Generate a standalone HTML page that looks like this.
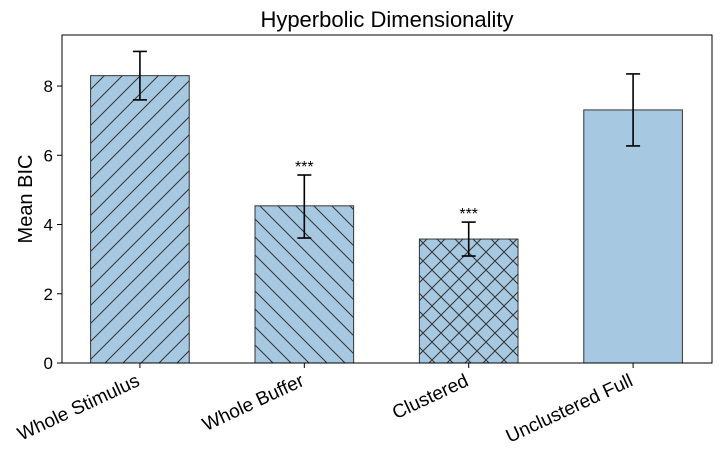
<!DOCTYPE html>
<html><head><meta charset="utf-8"><style>
body{margin:0;background:#fff;font-family:"Liberation Sans",Arial,sans-serif}
</style></head><body>
<svg id="chart" width="720" height="459" xmlns="http://www.w3.org/2000/svg">
<defs>
<pattern id="hFwd" patternUnits="userSpaceOnUse" width="18" height="18">
<rect width="18" height="18" fill="#a6c8e1"/>
<path d="M-2,2 L2,-2 M0,18 L18,0 M16,20 L20,16" stroke="#333" stroke-width="1"/>
</pattern>
<pattern id="hBack" patternUnits="userSpaceOnUse" width="18" height="18">
<rect width="18" height="18" fill="#a6c8e1"/>
<path d="M-2,16 L2,20 M0,0 L18,18 M16,-2 L20,2" stroke="#333" stroke-width="1"/>
</pattern>
<pattern id="hCross" patternUnits="userSpaceOnUse" width="18" height="18">
<rect width="18" height="18" fill="#a6c8e1"/>
<path d="M-2,2 L2,-2 M0,18 L18,0 M16,20 L20,16 M-2,16 L2,20 M0,0 L18,18 M16,-2 L20,2" stroke="#333" stroke-width="1"/>
</pattern>
</defs>
<text x="387" y="27" font-size="22" text-anchor="middle">Hyperbolic Dimensionality</text>
<text transform="translate(32,199) rotate(-90)" font-size="20" text-anchor="middle">Mean BIC</text>
<g id="bars"></g>
<rect x="62" y="35" width="650" height="328" fill="none" stroke="#000" stroke-width="1"/>
<g id="axes"></g>
</svg>
<script>
const categories=["Whole Stimulus","Whole Buffer","Clustered","Unclustered Full"];
const values=[8.3,4.54,3.58,7.31];
const errLow=[7.6,3.61,3.09,6.27];
const errHigh=[9.0,5.43,4.07,8.35];
const sigLabels=["","***","***",""];
const hatches=["url(#hFwd)","url(#hBack)","url(#hCross)","#a6c8e1"];
const yTicks=[0,2,4,6,8];
const NS="http://www.w3.org/2000/svg";
const L=62,R=712,T=35,B=363;
const x0=-0.474,x1=3.48,yMax=(B-T)/34.62;
const xs=v=>L+(v-x0)/(x1-x0)*(R-L);
const ys=v=>B-v/yMax*(B-T);
const bw=0.6;
function mk(tag,attrs,parent){const e=document.createElementNS(NS,tag);for(const k in attrs)e.setAttribute(k,attrs[k]);parent.appendChild(e);return e;}
const gb=document.getElementById('bars'),ga=document.getElementById('axes');
categories.forEach((c,i)=>{
  const xl=xs(i-bw/2),xr=xs(i+bw/2),cx=xs(i);
  const r=mk('rect',{x:xl,y:ys(values[i]),width:xr-xl,height:ys(0)-ys(values[i]),fill:hatches[i],stroke:'#333','stroke-width':1},gb);
  
  
  const eg=mk('g',{stroke:'#000','stroke-width':1.6},gb);
  
  
  mk('line',{x1:cx,x2:cx,y1:ys(errLow[i]),y2:ys(errHigh[i])},eg);
  mk('line',{x1:cx-7,x2:cx+7,y1:ys(errLow[i]),y2:ys(errLow[i])},eg);
  mk('line',{x1:cx-7,x2:cx+7,y1:ys(errHigh[i]),y2:ys(errHigh[i])},eg);
  if(sigLabels[i]){
    const s=mk('text',{x:cx,y:ys(errHigh[i])-3,'font-size':16,'text-anchor':'middle'},gb);
    s.textContent=sigLabels[i];
    
    
  }
  mk('line',{x1:cx,x2:cx,y1:B,y2:B+5,stroke:'#000'},ga);
  const t=mk('text',{x:0,y:0,'font-size':19,'text-anchor':'end',transform:`translate(${cx+1},${B+22}) rotate(-25)`},ga);
  t.textContent=c;
  
  
});
yTicks.forEach(v=>{
  const y=ys(v);
  mk('line',{x1:L-5,x2:L,y1:y,y2:y,stroke:'#000'},ga);
  const t=mk('text',{x:L-9,y:y+6,'font-size':17,'text-anchor':'end'},ga);
  t.textContent=v;
  
  
});
</script>
</body></html>
